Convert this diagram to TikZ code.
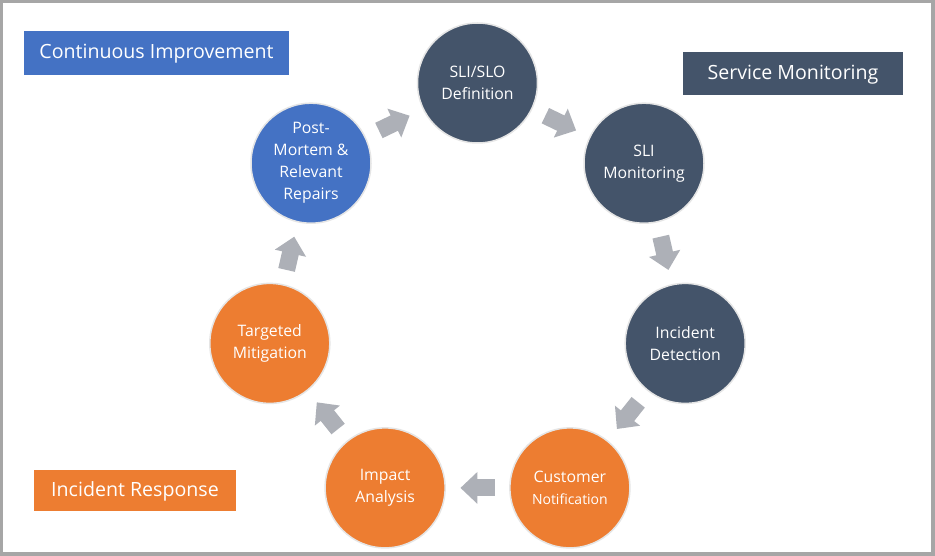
\documentclass[tikz,border=0pt]{standalone}
\usepackage{fontspec}
\setmainfont{Open Sans}
\usetikzlibrary{arrows.meta}
\definecolor{slate}{HTML}{44546A}
\definecolor{sreorange}{HTML}{ED7D31}
\definecolor{sreblue}{HTML}{4472C4}
\definecolor{flowgray}{HTML}{ADB0B7}
\definecolor{framegray}{HTML}{A6A6A6}
\begin{document}
\begin{tikzpicture}[x=1pt,y=-1pt,
    stage/.style={circle,minimum size=120pt,inner sep=0pt,draw=black!10,line width=1.5pt,
      text=white,align=center,font=\fontsize{15.8}{22}\selectfont},
    phase/.style={text=white,inner sep=0pt,text height=15pt,text depth=3pt,font=\fontsize{19.6}{23}\selectfont},
    cycle/.style={draw=flowgray,line width=17pt,-{Triangle[length=17pt,width=31pt]},
      shorten <=14.6pt,shorten >=14.6pt}]

	\fill[framegray] (0,0) rectangle (935,556);
	\fill[white] (3,3) rectangle (931,552);

	% the seven stages
	\node[stage,fill=slate] (def) at (477.5,83.0) {SLI/SLO\\Definition};
	\node[stage,fill=slate] (mon) at (644.0,163.2) {SLI\\Monitoring};
	\node[stage,fill=slate] (det) at (685.2,343.4) {Incident\\Detection};
	\node[stage,fill=sreorange] (cus) at (569.9,487.9) {Customer\\{\fontsize{14}{18}\selectfont Notification}};
	\node[stage,fill=sreorange] (imp) at (385.1,487.9) {Impact\\Analysis};
	\node[stage,fill=sreorange] (mit) at (269.8,343.4) {Targeted\\Mitigation};
	\node[stage,fill=sreblue] (pm) at (311.0,163.2) {Post-\\Mortem \&\\Relevant\\Repairs};

	\draw[cycle] (def) -- (mon);
	\draw[cycle] (mon) -- (det);
	\draw[cycle] (det) -- (cus);
	\draw[cycle] (cus) -- (imp);
	\draw[cycle] (imp) -- (mit);
	\draw[cycle] (mit) -- (pm);
	\draw[cycle] (pm) -- (def);

	% phases
	\node[phase,fill=sreblue,minimum width=265pt,minimum height=44pt] (ci) at (156.5,53) {Continuous Improvement};
	\node[phase,fill=slate,minimum width=220pt,minimum height=43pt] (sm) at (793,73.5) {Service Monitoring};
	\node[phase,fill=sreorange,minimum width=202pt,minimum height=41pt] (ir) at (135,490.5) {Incident Response};

\end{tikzpicture}
\end{document}
